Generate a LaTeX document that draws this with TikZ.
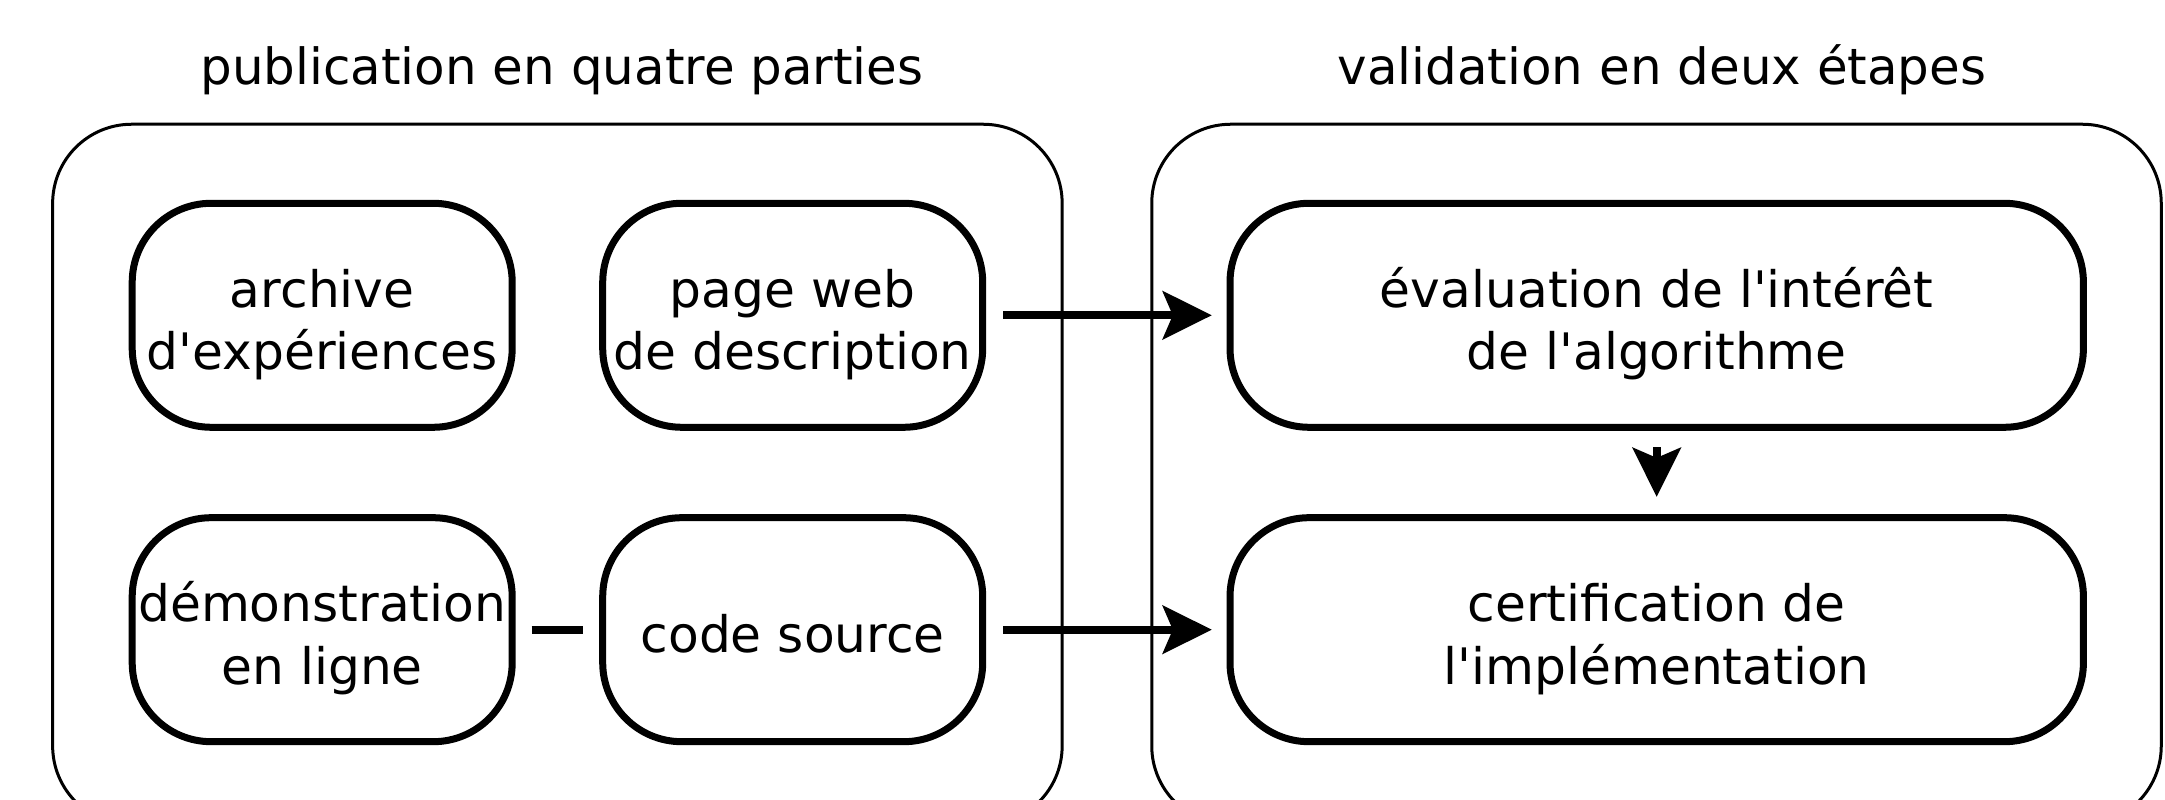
\documentclass[tikz,border=0pt]{standalone}
\usepackage{fontspec}
\setmainfont{DejaVu Sans}
\usetikzlibrary{arrows.meta}

\begin{document}
\begin{tikzpicture}[
  font=\fontsize{14.2pt}{17.9pt}\selectfont,
  groupbox/.style={draw, line width=0.03cm, rounded corners=0.79cm, minimum width=10.095cm, minimum height=7.007cm},
  partbox/.style={draw, line width=0.07cm, rounded corners=0.79cm, minimum height=2.24cm, align=center, inner sep=0pt, font=\fontsize{14.3pt}{17.9pt}\selectfont},
  twolines/.style={text height=1.094cm, text depth=0cm},
  wire/.style={line width=0.08cm},
  link/.style={wire, -{Stealth[length=0.49cm, width=0.48cm, inset=0.1cm]}},
]
\useasboundingbox (0,0) rectangle (21.65,8);
\clip (0,0) rectangle (21.65,8);

\node[anchor=base] (pubtitle) at (5.62,7.15) {publication en quatre parties};
\node[anchor=base] (valtitle) at (16.62,7.15) {validation en deux étapes};

\node[groupbox] (pub) at (5.574,3.254) {};
\node[groupbox] (val) at (16.565,3.254) {};

\node[partbox, twolines, minimum width=3.80cm] (archive) at (3.222,4.847) {archive\\d\textquotesingle{}expériences};
\node[partbox, twolines, minimum width=3.80cm] (web) at (7.927,4.847) {page web\\de description};
\node[partbox, twolines, minimum width=3.80cm] (demo) at (3.222,1.703) {démonstration\\en ligne};
\node[partbox, minimum width=3.80cm, text height=0.452cm, text depth=0cm] (code) at (7.927,1.703) {code source};

\node[partbox, twolines, minimum width=8.534cm] (eval) at (16.567,4.847) {évaluation de l\textquotesingle{}intérêt\\de l\textquotesingle{}algorithme};
\node[partbox, twolines, minimum width=8.534cm] (cert) at (16.567,1.703) {certification de\\l\textquotesingle{}implémentation};

\draw[link, shorten <=0.17cm, shorten >=0.147cm] (web) -- (eval);
\draw[link, shorten <=0.17cm, shorten >=0.147cm] (code) -- (cert);
\draw[link, shorten <=0.163cm, shorten >=0.173cm] (eval) -- (cert);
\draw[wire, shorten <=0.16cm, shorten >=0.166cm] (demo) -- (code);
\end{tikzpicture}
\end{document}
